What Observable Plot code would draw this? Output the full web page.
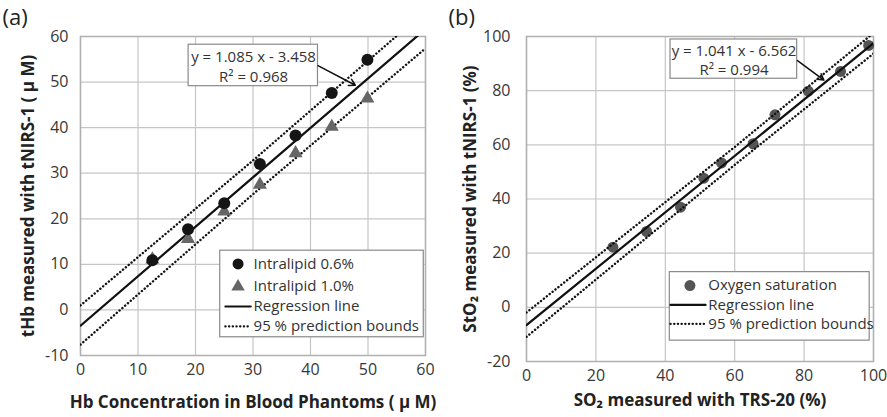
<!DOCTYPE html>
<html><head><meta charset="utf-8">
<script src="https://cdn.jsdelivr.net/npm/d3@7"></script>
<script src="https://cdn.jsdelivr.net/npm/@observablehq/plot@0.6"></script>
<style>
body{margin:0;background:#fff;}
#wrap{display:flex;width:887px;height:417px;overflow:hidden;}
#wrap svg{overflow:visible;}
</style></head><body><div id="wrap"></div>
<script>
// ---------- Panel (a) data ----------
const hbConc   = [12.5, 18.7, 25.0, 31.2, 37.4, 43.7, 49.9];
const lipid06  = [10.9, 17.7, 23.4, 32.0, 38.3, 47.6, 54.9];
const lipid10  = [11.1, 15.6, 21.6, 27.5, 34.4, 40.2, 46.4];
const regAx    = [0, 60];
const regAy    = [-3.458, 61.642];
const boundAx  = [0, 30, 60];
const upperAy  = [1.0, 32.8, 65.6];
const lowerAy  = [-7.6, 25.4, 57.4];
const xTicksA  = [0, 10, 20, 30, 40, 50, 60];
const yTicksA  = [-10, 0, 10, 20, 30, 40, 50, 60];
const eqA      = ["y = 1.085 x - 3.458", "R² = 0.968"];
const legendA  = ["Intralipid 0.6%", "Intralipid 1.0%", "Regression line", "95 % prediction bounds"];

// ---------- Panel (b) data ----------
const so2      = [24.9, 34.6, 44.4, 51.1, 56.2, 65.3, 71.6, 81.2, 90.5, 98.6];
const sto2     = [22.2, 28.0, 37.0, 47.7, 53.3, 60.4, 71.1, 79.8, 87.1, 96.7];
const regBx    = [0, 100];
const regBy    = [-6.562, 97.538];
const boundBx  = [0, 60, 100];
const upperBy  = [-1.9, 59.2, 101.3];
const lowerBy  = [-10.9, 52.6, 93.7];
const xTicksB  = [0, 20, 40, 60, 80, 100];
const yTicksB  = [-20, 0, 20, 40, 60, 80, 100];
const eqB      = ["y = 1.041 x - 6.562", "R² = 0.994"];
const legendB  = ["Oxygen saturation", "Regression line", "95 % prediction bounds"];

const FONT = "'Open Sans', 'DejaVu Sans', sans-serif";
const GRID = "#c6c6c6";
const DOT = {strokeDasharray: "0.1,3.6", strokeLinecap: "round", strokeWidth: 2.4};
const pts = (xs, ys) => xs.map((x, i) => ({x, y: ys[i]}));

function panel(o) {
  return Plot.plot({
    width: o.width, height: 417,
    marginLeft: o.ml, marginRight: o.mr, marginTop: 36, marginBottom: o.mb,
    style: {fontFamily: FONT, fontSize: "16px", color: "#383838", background: "white"},
    x: {domain: o.xd, ticks: o.xt, tickSize: 0, tickPadding: 8, label: null, tickFormat: d => String(d)},
    y: {domain: o.yd, ticks: o.yt, tickSize: 0, tickPadding: o.ytp, label: null, tickFormat: d => String(d)},
    marks: [
      Plot.gridX(o.xt, {stroke: GRID, strokeOpacity: 1, strokeWidth: 1.2}),
      Plot.gridY(o.yt, {stroke: GRID, strokeOpacity: 1, strokeWidth: 1.2}),
      Plot.frame({stroke: "#b0b0b0", strokeWidth: 1.5}),
      ...o.marks,
      Plot.text([o.tag], {frameAnchor: "top-left", dx: o.tagDx, dy: -27, lineAnchor: "top", textAnchor: "start", fontSize: 22, fill: "#222"}),
      Plot.text([o.xl], {frameAnchor: "bottom", dy: o.xlDy, lineAnchor: "middle", textAnchor: "middle", fontSize: 17, fontWeight: "bold", fill: "#222"}),
      Plot.text([o.yl], {frameAnchor: "left", dx: o.ylDx, rotate: -90, lineAnchor: "middle", textAnchor: "middle", fontSize: 17, fontWeight: "bold", fill: "#222"})
    ]
  });
}

// ---------- Panel (a) ----------
const aMarks = [
  Plot.rect([0], {x1: 18.8, x2: 41.3, y1: 49.1, y2: 58.2, fill: "white", stroke: "#8a8a8a", strokeWidth: 1.2}),
  Plot.text([eqA[0]], {x: 30.1, y: 55.5, fill: "#333", fontSize: 15}),
  Plot.text([eqA[1]], {x: 30.1, y: 51.1, fill: "#333", fontSize: 15}),
  Plot.arrow([0], {x1: 41.3, y1: 53.6, x2: 47.8, y2: 49.3, stroke: "#111", strokeWidth: 1.5, headLength: 7}),
  Plot.line(pts(boundAx, upperAy), {x: "x", y: "y", stroke: "#111", ...DOT, clip: true}),
  Plot.line(pts(boundAx, lowerAy), {x: "x", y: "y", stroke: "#111", ...DOT, clip: true}),
  Plot.line(pts(regAx, regAy), {x: "x", y: "y", stroke: "#111", strokeWidth: 2.2, clip: true}),
  Plot.dot(pts(hbConc, lipid10), {x: "x", y: "y", symbol: "triangle", r: 5.2, fill: "#666", stroke: "none"}),
  Plot.dot(pts(hbConc, lipid06), {x: "x", y: "y", symbol: "circle", r: 6, fill: "#151515", stroke: "none"}),
  Plot.rect([0], {x1: 24.3, x2: 59.7, y1: -6.0, y2: 13.0, fill: "white", stroke: "#8a8a8a", strokeWidth: 1.2}),
  Plot.dot([0], {x: 27.4, y: 10.1, symbol: "circle", r: 5.5, fill: "#151515"}),
  Plot.dot([0], {x: 27.4, y: 5.1, symbol: "triangle", r: 5, fill: "#666"}),
  Plot.line([[25.2, 0.75], [29.6, 0.75]], {stroke: "#111", strokeWidth: 2.2}),
  Plot.line([[25.2, -3.6], [29.6, -3.6]], {stroke: "#111", ...DOT}),
  Plot.text(legendA, {x: 30.1, y: (d, i) => [10.1, 5.1, 0.75, -3.6][i], textAnchor: "start", fill: "#333", fontSize: 15})
];

const svgA = panel({
  width: 443, ml: 80, mr: 18, mb: 62, ytp: 12,
  xd: [0, 60], yd: [-10, 60], xt: xTicksA, yt: yTicksA,
  tag: "(a)", tagDx: -78,
  xl: "Hb Concentration in Blood Phantoms ( μ M)", xlDy: 47,
  yl: "tHb measured with tNIRS-1 ( μ M)", ylDx: -52,
  marks: aMarks
});

// ---------- Panel (b) ----------
const bMarks = [
  Plot.rect([0], {x1: 41.5, x2: 78.0, y1: 84.4, y2: 98.9, fill: "white", stroke: "#8a8a8a", strokeWidth: 1.2}),
  Plot.text([eqB[0]], {x: 59.8, y: 94.6, fill: "#333", fontSize: 15}),
  Plot.text([eqB[1]], {x: 59.8, y: 87.4, fill: "#333", fontSize: 15}),
  Plot.arrow([0], {x1: 78.1, y1: 91.1, x2: 85.7, y2: 83.9, stroke: "#111", strokeWidth: 1.5, headLength: 7}),
  Plot.dot(pts(so2, sto2), {x: "x", y: "y", symbol: "circle", r: 5.5, fill: "#555", stroke: "none"}),
  Plot.line(pts(boundBx, upperBy), {x: "x", y: "y", stroke: "#111", ...DOT, clip: true}),
  Plot.line(pts(boundBx, lowerBy), {x: "x", y: "y", stroke: "#111", ...DOT, clip: true}),
  Plot.line(pts(regBx, regBy), {x: "x", y: "y", stroke: "#111", strokeWidth: 2.2, clip: true}),
  Plot.rect([0], {x1: 41.3, x2: 98.9, y1: -12.3, y2: 13.0, fill: "white", stroke: "#8a8a8a", strokeWidth: 1.2}),
  Plot.dot([0], {x: 47.1, y: 8.05, symbol: "circle", r: 5.5, fill: "#555"}),
  Plot.line([[41.5, 0.9], [51.6, 0.9]], {stroke: "#111", strokeWidth: 2.2}),
  Plot.line([[41.5, -6.1], [51.6, -6.1]], {stroke: "#111", ...DOT}),
  Plot.text(legendB, {x: 52.4, y: (d, i) => [8.05, 0.9, -6.1][i], textAnchor: "start", fill: "#333", fontSize: 15})
];

const svgB = panel({
  width: 444, ml: 83, mr: 14, mb: 56, ytp: 16,
  xd: [0, 100], yd: [-20, 100], xt: xTicksB, yt: yTicksB,
  tag: "(b)", tagDx: -78,
  xl: "SO₂ measured with TRS-20 (%)", xlDy: 39,
  yl: "StO₂ measured with tNIRS-1 (%)", ylDx: -56,
  marks: bMarks
});

document.getElementById("wrap").append(svgA, svgB);
</script>
</body></html>
